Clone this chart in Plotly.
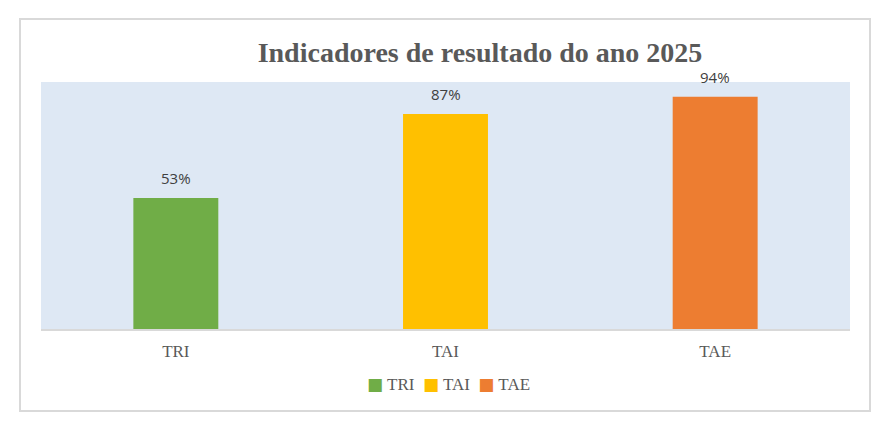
import plotly.graph_objects as go

categories = ["TRI", "TAI", "TAE"]
values = [0.53, 0.87, 0.94]
labels = ["53%", "87%", "94%"]
colors = ["#70AD47", "#FFC000", "#ED7D31"]
title = "Indicadores de resultado do ano 2025"

# page body has an 8px margin; compensate so the figure lines up with the window
OFF = 8
W, H = 879, 432
L, R, T, B = 41 - OFF, 29 + OFF, 82 - OFF, 103 + OFF
pw, ph = W - L - R, H - T - B

def px_x(p):
    return (p - OFF - L) / pw

def px_y(p):
    return (H - B - (p - OFF)) / ph

fig = go.Figure()
for c, v, col in zip(categories, values, colors):
    fig.add_trace(go.Bar(
        x=[c], y=[v], name=c, marker=dict(color=col, line=dict(width=0)),
        width=0.315, hoverinfo="skip", showlegend=False,
    ))

annotations = []
for c, v, lab in zip(categories, values, labels):
    annotations.append(dict(x=c, y=v, xref="x", yref="y", text=lab, showarrow=False,
                            yanchor="middle", yshift=20,
                            font=dict(family="Open Sans, Lato, sans-serif", size=15, color="#404040")))

legend_parts = []
for c, col in zip(categories, colors):
    legend_parts.append("<span style='color:%s;font-size:17px;font-family:DejaVu Sans'>■</span> %s" % (col, c))
annotations.append(dict(x=px_x(448), y=px_y(384), xref="paper", yref="paper",
                        text="  ".join(legend_parts), showarrow=False,
                        xanchor="center", yanchor="middle",
                        font=dict(family="Liberation Serif, serif", size=17, color="#595959")))

fig.update_layout(
    width=W, height=H,
    margin=dict(l=L, r=R, t=T, b=B),
    paper_bgcolor="white",
    plot_bgcolor="#DEE8F4",
    barmode="overlay",
    showlegend=False,
    title=dict(text="<b>" + title + "</b>", x=(480 - OFF) / W, xanchor="center",
               y=1 - (52 - OFF) / H, yanchor="middle",
               font=dict(family="Liberation Serif, serif", size=28, color="#595959")),
    xaxis=dict(showline=True, linecolor="#D9D9D9", linewidth=2, showgrid=False, ticks="",
               ticklabelstandoff=6,
               tickfont=dict(family="Liberation Serif, serif", size=17, color="#595959"),
               categoryorder="array", categoryarray=categories),
    yaxis=dict(range=[0, 1], visible=False, showgrid=False, zeroline=False),
    annotations=annotations,
    shapes=[dict(type="rect", xref="paper", yref="paper",
                 x0=px_x(20), x1=px_x(870), y0=px_y(411), y1=px_y(19),
                 line=dict(color="#D9D9D9", width=2), fillcolor="rgba(0,0,0,0)", layer="below")],
)

fig.write_html("out.html")
